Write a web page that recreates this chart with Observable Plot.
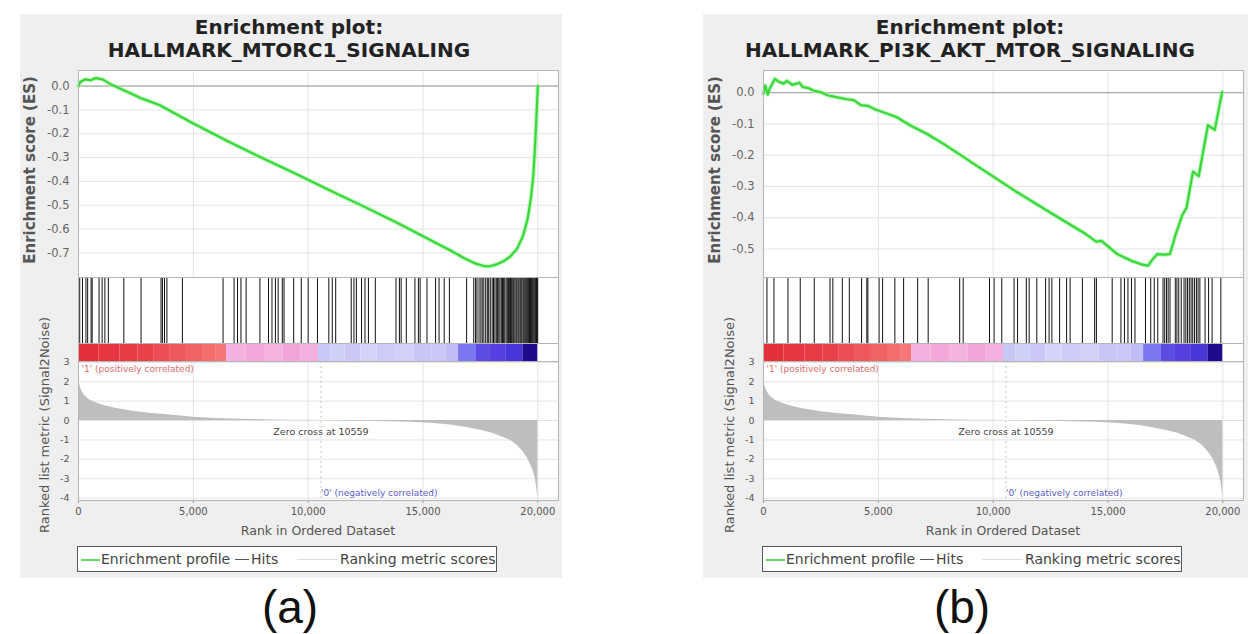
<!DOCTYPE html>
<html><head><meta charset="utf-8">
<script src="https://cdn.jsdelivr.net/npm/d3@7"></script>
<script src="https://cdn.jsdelivr.net/npm/@observablehq/plot@0.6"></script>
<style>
html,body{margin:0;padding:0;background:#fff}
body{width:1248px;height:634px;overflow:hidden;position:relative;font-family:"DejaVu Sans",sans-serif}
.abs{position:absolute;white-space:nowrap}
</style></head><body>
<script>
// ---------- data ----------
const rankDomain = [0, 20900];
const rankTicks = [0, 5000, 10000, 15000, 20000];
const metricTicks = [3, 2, 1, 0, -1, -2, -3, -4];
const zeroCross = 10559;

const esTicksA = [0, -0.1, -0.2, -0.3, -0.4, -0.5, -0.6, -0.7];
const esTicksB = [0, -0.1, -0.2, -0.3, -0.4, -0.5];

const esRankA = [0, 75, 300, 525, 750, 1050, 1425, 2775, 3525, 5000, 6525, 8000, 9525, 11000, 12525, 14000, 15400, 16200, 16800, 17300, 17650, 17900, 18200, 18500, 18800, 19100, 19350, 19550, 19700, 19800, 19880, 19930, 19975, 20000];
const esScoreA = [0, 0.017, 0.028, 0.024, 0.033, 0.028, 0.006, -0.053, -0.08, -0.157, -0.233, -0.302, -0.371, -0.44, -0.51, -0.58, -0.65, -0.69, -0.722, -0.745, -0.755, -0.756, -0.748, -0.735, -0.715, -0.682, -0.63, -0.56, -0.47, -0.38, -0.25, -0.15, -0.05, 0];

const esRankB = [0, 77, 184, 260, 490, 643, 872, 1025, 1255, 1560, 1714, 1943, 2173, 2479, 2785, 3167, 3626, 3932, 4238, 4544, 4850, 5156, 5768, 6380, 7145, 7910, 9440, 10970, 12500, 14030, 14489, 14719, 15400, 16000, 16500, 16750, 16900, 17150, 17450, 17700, 17950, 18250, 18420, 18700, 18950, 19350, 19650, 19967];
const esScoreB = [-0.003, 0.023, -0.006, 0.011, 0.044, 0.036, 0.029, 0.038, 0.025, 0.032, 0.018, 0.015, 0.007, 0.002, -0.008, -0.014, -0.021, -0.024, -0.04, -0.042, -0.053, -0.061, -0.077, -0.104, -0.133, -0.167, -0.241, -0.315, -0.384, -0.452, -0.476, -0.474, -0.516, -0.537, -0.55, -0.553, -0.537, -0.516, -0.518, -0.516, -0.452, -0.389, -0.368, -0.252, -0.267, -0.104, -0.119, 0.002];

const hitsA = [54, 174, 324, 399, 549, 594, 894, 1029, 1149, 1299, 1974, 2724, 3594, 3654, 3744, 3849, 4524, 6294, 6774, 6924, 7074, 7299, 7899, 8274, 8424, 8574, 8694, 8874, 8949, 9369, 9699, 9999, 10404, 10899, 11049, 11199, 11874, 11994, 12099, 12324, 12474, 12624, 12924, 13824, 13974, 14049, 14274, 14649, 14799, 14874, 15174, 15549, 15699, 15924, 16149, 16899,
  17210, 17290, 17350, 17440, 17520, 17580, 17650, 17730, 17800, 17860, 17930, 18010, 18070, 18130, 18190, 18240, 18300, 18350, 18410, 18460, 18510, 18560, 18620, 18670, 18720, 18760, 18810, 18860, 18910, 18950, 19000, 19050, 19090, 19140, 19180, 19230, 19270, 19310, 19360, 19400, 19440, 19480, 19520, 19560, 19600, 19640, 19680, 19720, 19760, 19800, 19840, 19880, 19910, 19940, 19970, 19995];

const hitsB = [150, 455, 1065, 1600, 2210, 2897, 3019, 3431, 3736, 4270, 4499, 4545, 5033, 5186, 5720, 6101, 6712, 7170, 8542, 8695, 9841, 10040, 10375, 10910, 11062, 11444, 11566, 11901, 12283, 12435, 12557, 12893, 13198, 13351, 13885, 14419, 14495, 15182, 15564, 15716, 15869, 16022, 16174, 16632, 16861, 17014, 17167, 17396, 17470, 17548, 17620, 17701, 17930, 18000, 18082, 18189, 18311, 18390, 18464, 18540, 18617, 18690, 18769, 18850, 18922, 19000, 19227, 19380, 19532, 19914];

const barStart = [0, 900, 1800, 2600, 3300, 4000, 4700, 5400, 6000, 6450, 7300, 8100, 8900, 9700, 10450, 11000, 11600, 12300, 13000, 13800, 14600, 15400, 16000, 16550, 17300, 17900, 18600, 19350];
const barEnd   = [900, 1800, 2600, 3300, 4000, 4700, 5400, 6000, 6450, 7300, 8100, 8900, 9700, 10450, 11000, 11600, 12300, 13000, 13800, 14600, 15400, 16000, 16550, 17300, 17900, 18600, 19350, 20000];
const barColor = ["#e5303a", "#e73640", "#e83b43", "#ea4249", "#ed4e53", "#ef585b", "#f16363", "#f36d6c", "#f57675", "#f4b1df", "#f2a9da", "#f5b4e0", "#f0a6d8", "#f4b0de", "#c6c8f5", "#cfd0f8", "#c9c8f6", "#d4d3f9", "#cdcbf7", "#d2d0f8", "#c8c6f5", "#cac7f6", "#c0bdf4", "#7a78ee", "#5d4ce4", "#5440df", "#4836d8", "#1e0a8c"];

const metricRank  = [0, 40, 120, 250, 500, 800, 1100, 1600, 2500, 3200, 4000, 5000, 6000, 7000, 8000, 9000, 10000, 10559, 11500, 12500, 13500, 14500, 15500, 16300, 16900, 17500, 18000, 18400, 18800, 19100, 19370, 19550, 19700, 19800, 19880, 19940, 19980, 19999];
const metricValue = [2.3, 1.9, 1.58, 1.3, 1.05, 0.9, 0.77, 0.63, 0.45, 0.36, 0.28, 0.17, 0.11, 0.07, 0.04, 0.02, 0.008, 0, -0.02, -0.04, -0.06, -0.09, -0.15, -0.24, -0.36, -0.5, -0.64, -0.82, -1.02, -1.27, -1.62, -1.95, -2.3, -2.6, -2.95, -3.35, -3.8, -4.05];

const panels = [
  {ox: 0, bgLeft: 20, bgWidth: 542, titleX: 289, setName: "HALLMARK_MTORC1_SIGNALING", esRank: esRankA, esScore: esScoreA, hits: hitsA, esDomain: [-0.803, 0.065], esTicks: esTicksA, tag: "(a)", tagX: 290},
  {ox: 685, bgLeft: 703, bgWidth: 545, titleX: 970, setName: "HALLMARK_PI3K_AKT_MTOR_SIGNALING", esRank: esRankB, esScore: esScoreB, hits: hitsB, esDomain: [-0.591, 0.071], esTicks: esTicksB, tag: "(b)", tagX: 962}
];

// ---------- helpers ----------
function addDiv(text, css) {
  const d = document.createElement("div");
  d.className = "abs";
  d.textContent = text;
  d.style.cssText += css;
  document.body.appendChild(d);
  return d;
}
function place(svg, left, top, w) {
  const wrap = document.createElement("div");
  wrap.style.cssText = `position:absolute;left:${left}px;top:${top}px;width:${w}px`;
  wrap.appendChild(svg);
  document.body.appendChild(wrap);
}

const W = 542, ML = 58, MR = 4;
const metric = metricRank.map((r, i) => ({rank: r, value: metricValue[i]}));
const bar = barStart.map((s, i) => ({start: s, end: barEnd[i], color: barColor[i]}));
const gridColor = "#e3e3e3";
const frameColor = "#b5b5b5";

for (const p of panels) {
  const ox = p.ox;
  const bg = document.createElement("div");
  bg.style.cssText = `position:absolute;left:${p.bgLeft}px;top:14px;width:${p.bgWidth}px;height:564px;background:#efefef`;
  document.body.appendChild(bg);

  addDiv("Enrichment plot:", `left:${p.titleX}px;top:16px;transform:translateX(-50%);font:bold 20px 'DejaVu Sans';color:#222;line-height:22px`);
  addDiv(p.setName, `left:${p.titleX}px;top:39px;transform:translateX(-50%);font:bold 20px 'DejaVu Sans';color:#222;line-height:22px`);

  const es = p.esRank.map((r, i) => ({rank: r, es: p.esScore[i]}));
  const esPlot = Plot.plot({
    width: W, height: 217, marginLeft: ML, marginRight: MR, marginTop: 10, marginBottom: 0,
    style: {background: "transparent", fontFamily: "DejaVu Sans", fontSize: "11.5px", color: "#666", overflow: "visible"},
    x: {domain: rankDomain, axis: null},
    y: {domain: p.esDomain, axis: null},
    marks: [
      Plot.frame({fill: "white", stroke: null}),
      Plot.gridY(p.esTicks, {stroke: gridColor, strokeOpacity: 1}),
      Plot.gridX(rankTicks, {stroke: gridColor, strokeOpacity: 1}),
      Plot.ruleY([0], {stroke: "#9a9a9a"}),
      Plot.line(es, {x: "rank", y: "es", stroke: "#a8f2a8", strokeWidth: 4.5, strokeOpacity: 0.7}),
      Plot.line(es, {x: "rank", y: "es", stroke: "#38d838", strokeWidth: 2.2}),
      Plot.axisY(p.esTicks, {tickSize: 0, tickPadding: 9, tickFormat: d => d.toFixed(1), label: null}),
      Plot.frame({stroke: frameColor})
    ]
  });
  place(esPlot, ox + 20, 60, W);

  const hitsPlot = Plot.plot({
    width: W, height: 66, marginLeft: ML, marginRight: MR, marginTop: 0, marginBottom: 0,
    style: {background: "transparent"},
    x: {domain: rankDomain, axis: null},
    marks: [
      Plot.frame({fill: "white", stroke: null}),
      Plot.ruleX(p.hits, {x: d => d, stroke: "#111", strokeWidth: 1}),
      Plot.frame({stroke: frameColor})
    ]
  });
  place(hitsPlot, ox + 20, 277, W);

  const barPlot = Plot.plot({
    width: W, height: 18, marginLeft: ML, marginRight: MR, marginTop: 0, marginBottom: 0,
    style: {background: "transparent"},
    x: {domain: rankDomain, axis: null},
    color: {type: "identity"},
    marks: [
      Plot.frame({fill: "white", stroke: null}),
      Plot.rect(bar, {x1: "start", x2: "end", fill: "color"}),
      Plot.frame({stroke: frameColor})
    ]
  });
  place(barPlot, ox + 20, 343, W);

  const metricPlot = Plot.plot({
    width: W, height: 159, marginLeft: ML, marginRight: MR, marginTop: 0, marginBottom: 20,
    style: {background: "transparent", fontFamily: "DejaVu Sans", fontSize: "10px", color: "#555", overflow: "visible"},
    x: {domain: rankDomain},
    y: {domain: [-4.12, 3.04]},
    marks: [
      Plot.frame({fill: "white", stroke: null}),
      Plot.gridY(metricTicks, {stroke: gridColor, strokeOpacity: 1}),
      Plot.gridX(rankTicks, {stroke: gridColor, strokeOpacity: 1}),
      Plot.ruleX([zeroCross], {stroke: "#c4c4c4", strokeDasharray: "2,3"}),
      Plot.areaY(metric, {x: "rank", y: "value", fill: "#bebebe"}),
      Plot.text(["'1' (positively correlated)"], {x: 130, y: 2.65, text: d => d, textAnchor: "start", fill: "#e06a6a", fontSize: 9}),
      Plot.text(["Zero cross at " + zeroCross], {x: zeroCross, y: -0.58, text: d => d, fill: "#444", fontSize: 9.5}),
      Plot.text(["'0' (negatively correlated)"], {x: zeroCross, y: -3.72, text: d => d, textAnchor: "start", fill: "#5a5ad0", fontSize: 9}),
      Plot.axisY(metricTicks, {tickSize: 0, tickPadding: 9, tickFormat: d => String(d), label: null, fontSize: 9.5}),
      Plot.axisX(rankTicks, {tickSize: 3, tickPadding: 4, tickFormat: d3.format(","), label: null, stroke: "#999"}),
      Plot.frame({stroke: frameColor})
    ]
  });
  place(metricPlot, ox + 20, 361, W);

  addDiv("Enrichment score (ES)", `left:${ox + 30}px;top:170px;transform:translate(-50%,-50%) rotate(-90deg);font:bold 15px 'DejaVu Sans';color:#555`);
  addDiv("Ranked list metric (Signal2Noise)", `left:${ox + 44}px;top:425px;transform:translate(-50%,-50%) rotate(-90deg);font:13px 'DejaVu Sans';color:#555`);
  addDiv("Rank in Ordered Dataset", `left:${ox + 318}px;top:530px;transform:translate(-50%,-50%);font:12.5px 'DejaVu Sans';color:#555`);

  const lg = document.createElement("div");
  lg.style.cssText = `position:absolute;left:${ox + 77}px;top:546px;width:420px;height:26px;box-sizing:border-box;border:1px solid #555;background:#fff;font:14px 'DejaVu Sans';color:#444`;
  const item = (text, left) => { const s = document.createElement("span"); s.textContent = text; s.style.cssText = `position:absolute;left:${left}px;top:50%;transform:translateY(-50%);white-space:nowrap`; lg.appendChild(s); };
  const swatch = (left, w, color, h) => { const s = document.createElement("span"); s.style.cssText = `position:absolute;left:${left}px;top:12px;width:${w}px;height:${h}px;background:${color}`; lg.appendChild(s); };
  swatch(3, 19, "#66dd66", 2);
  item("Enrichment profile", 23);
  swatch(157, 14, "#555", 1);
  item("Hits", 173);
  swatch(219, 41, "#dddddd", 1);
  item("Ranking metric scores", 262);
  document.body.appendChild(lg);

  addDiv(p.tag, `left:${p.tagX}px;top:607px;transform:translate(-50%,-50%);font:46px 'Liberation Sans',Arial,sans-serif;color:#111`);
}
</script>
</body></html>
